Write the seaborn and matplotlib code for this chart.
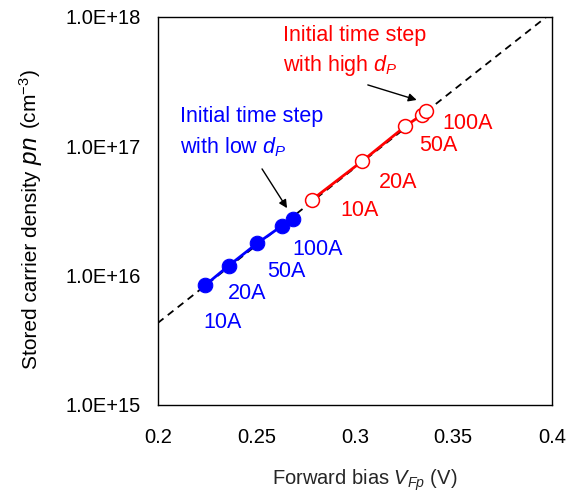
import matplotlib
matplotlib.use("Agg")
import matplotlib.pyplot as plt
import pandas as pd
import seaborn as sns

# forward bias (V) and stored carrier density (cm^-3)
currents = ["10A", "20A", "50A", "100A"]
low_v = [0.2242, 0.2359, 0.2503, 0.2631, 0.2684]
low_n = [8.46e15, 1.19e16, 1.77e16, 2.43e16, 2.74e16]
high_v = [0.2782, 0.3037, 0.3257, 0.3340, 0.3360]
high_n = [3.85e16, 7.66e16, 1.43e17, 1.75e17, 1.87e17]
fit_v = [0.2, 0.4]
fit_n = [4.30e15, 1.08e18]

# label positions for the currents
low_lab_v = [0.2331, 0.2453, 0.2653, 0.2811]
low_lab_n = [4.33e15, 7.21e15, 1.07e16, 1.60e16]
high_lab_v = [0.3022, 0.3220, 0.3423, 0.3575]
high_lab_n = [3.16e16, 5.23e16, 1.01e17, 1.51e17]

x_ticks = [0.2, 0.25, 0.3, 0.35, 0.4]
x_labels = ["0.2", "0.25", "0.3", "0.35", "0.4"]
y_ticks = [1e15, 1e16, 1e17, 1e18]
y_labels = ["1.0E+15", "1.0E+16", "1.0E+17", "1.0E+18"]

BLUE = "#0000ff"
RED = "#ff0000"

sns.set_theme(style="white")
plt.rcParams["font.family"] = ["Liberation Sans", "DejaVu Sans"]
plt.rcParams["mathtext.fontset"] = "custom"
plt.rcParams["mathtext.rm"] = "Liberation Sans"
plt.rcParams["mathtext.it"] = "Liberation Sans:italic"

low = pd.DataFrame({"v": low_v, "n": low_n})
high = pd.DataFrame({"v": high_v, "n": high_n})
fit = pd.DataFrame({"v": fit_v, "n": fit_n})

fig = plt.figure(figsize=(5.76, 4.98), dpi=100)
ax = fig.add_axes([0.274, 0.187, 0.684, 0.779])

sns.lineplot(data=fit, x="v", y="n", color="black", linewidth=1.3,
             linestyle=(0, (4, 3)), zorder=1, ax=ax)
sns.lineplot(data=low, x="v", y="n", sort=False, color=BLUE, linewidth=2,
             marker="o", markersize=10.5, markeredgecolor=BLUE,
             markerfacecolor=BLUE, zorder=3, ax=ax)
sns.lineplot(data=high, x="v", y="n", sort=False, color=RED, linewidth=2,
             marker="o", markersize=10, markeredgecolor=RED,
             markerfacecolor="white", markeredgewidth=1.1, zorder=3, ax=ax)

ax.set_yscale("log")
ax.set_xlim(0.2, 0.4)
ax.set_ylim(1e15, 1e18)
ax.set_xticks(x_ticks)
ax.set_xticklabels(x_labels)
ax.set_yticks(y_ticks)
ax.set_yticklabels(y_labels)
ax.minorticks_off()
ax.tick_params(direction="in", length=6, width=1, labelsize=14.5,
               colors="black", labelcolor="black")
ax.tick_params(axis="x", pad=17)
ax.tick_params(axis="y", pad=12)
for s in ax.spines.values():
    s.set_color("black")
    s.set_linewidth(1)

ax.set_xlabel(r"Forward bias $V_{Fp}$ (V)", fontsize=14.5)
ax.xaxis.set_label_coords(0.525, -0.206)
ax.xaxis.label.set_va("baseline")
ax.set_ylabel("")

# y label in three pieces so the symbol pn can be drawn larger
t1 = ax.text(-0.307, 0.093, "Stored carrier density", fontsize=15,
             rotation=90, rotation_mode="anchor", ha="left", va="baseline",
             transform=ax.transAxes, color="black")
t2 = ax.annotate(r"$pn$", xy=(-0.307, 1), xycoords=(ax.transAxes, t1),
                 xytext=(0, 4), textcoords="offset points", fontsize=17.5,
                 rotation=90, rotation_mode="anchor", ha="left",
                 va="baseline", color="black")
ax.annotate(r"(cm$^{-3}$)", xy=(-0.307, 1), xycoords=(ax.transAxes, t2),
            xytext=(0, 5), textcoords="offset points", fontsize=15,
            rotation=90, rotation_mode="anchor", ha="left", va="baseline",
            color="black")

for lab, v, n in zip(currents, low_lab_v, low_lab_n):
    ax.text(v, n, lab, color=BLUE, fontsize=15.5, ha="center", va="center")
for lab, v, n in zip(currents, high_lab_v, high_lab_n):
    ax.text(v, n, lab, color=RED, fontsize=15.5, ha="center", va="center")

ax.text(0.2635, 7.17e17, "Initial time step", color=RED, fontsize=15.5,
        ha="left", va="center")
ax.text(0.2635, 4.20e17, r"with high $d_P$", color=RED, fontsize=15.5,
        ha="left", va="center")
ax.text(0.2112, 1.69e17, "Initial time step", color=BLUE, fontsize=15.5,
        ha="left", va="center")
ax.text(0.2112, 9.89e16, r"with low $d_P$", color=BLUE, fontsize=15.5,
        ha="left", va="center")

arrow = dict(arrowstyle="-|>", color="black", lw=1, mutation_scale=12,
             shrinkA=0, shrinkB=0)
ax.annotate("", xy=(0.3314, 2.28e17), xytext=(0.3066, 2.98e17),
            arrowprops=arrow)
ax.annotate("", xy=(0.2656, 3.32e16), xytext=(0.2529, 6.68e16),
            arrowprops=arrow)

fig.savefig("out.png", dpi=100)
plt.close(fig)
